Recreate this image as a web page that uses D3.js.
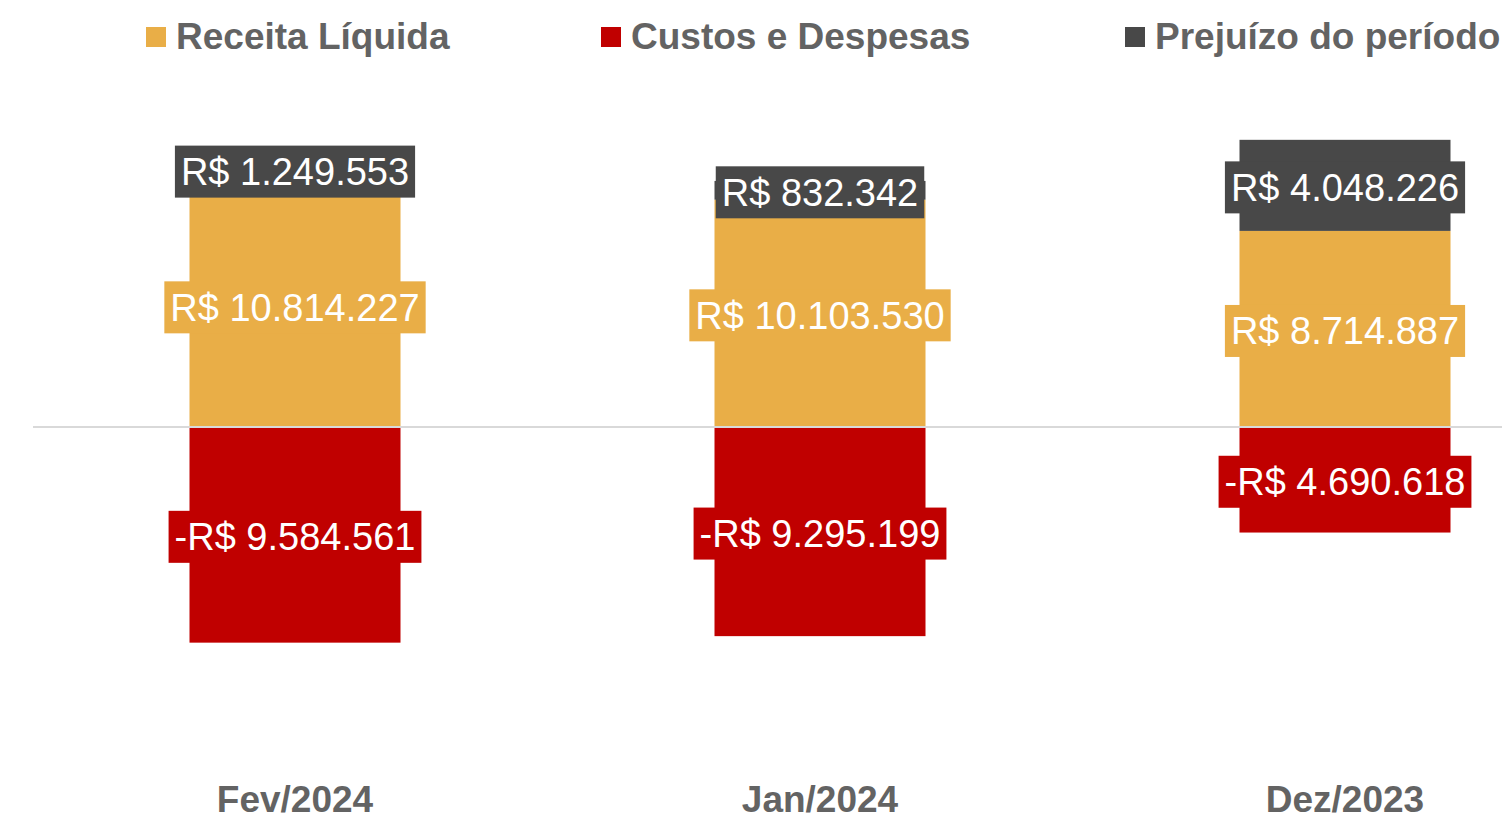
<!DOCTYPE html>
<html>
<head>
<meta charset="utf-8">
<script src="https://cdn.jsdelivr.net/npm/d3@7"></script>
<style>
  body { margin: 0; background: #fff; }
  svg { display: block; font-family: "Liberation Sans", Arial, sans-serif; }
</style>
</head>
<body>
<div id="chart"></div>
<script>
// dados do gráfico
var categorias = ["Fev/2024", "Jan/2024", "Dez/2023"];
var receita = [10814227, 10103530, 8714887];
var custos = [-9584561, -9295199, -4690618];
var prejuizo = [1249553, 832342, 4048226];

var series = [
  { nome: "Receita Líquida", cor: "#E9AE47" },
  { nome: "Custos e Despesas", cor: "#C00000" },
  { nome: "Prejuízo do período", cor: "#484848" }
];

var width = 1502;
var height = 822;

var svg = d3.select('#chart').append('svg')
  .attr('width', width)
  .attr('height', height);

var x = d3.scalePoint()
  .domain(categorias)
  .range([295, 1345]);
var larguraBarra = 211;

// zero em y=427
var y = d3.scaleLinear()
  .domain([-16000000, 16000000])
  .range([787, 67]);

var br = d3.formatLocale({ decimal: ",", thousands: ".", grouping: [3], currency: ["R$ ", ""], minus: "-" });
var fmt = br.format("$,.0f");

// segmentos empilhados
var segmentos = [];
categorias.forEach(function (c, i) {
  segmentos.push({ cat: c, y0: 0, y1: receita[i], v: receita[i], cor: series[0].cor });
  segmentos.push({ cat: c, y0: 0, y1: custos[i], v: custos[i], cor: series[1].cor });
  segmentos.push({ cat: c, y0: receita[i], y1: receita[i] + prejuizo[i], v: prejuizo[i], cor: series[2].cor });
});

svg.append('g')
  .selectAll('rect')
  .data(segmentos)
  .enter()
  .append('rect')
  .attr('x', d => x(d.cat) - larguraBarra / 2)
  .attr('width', larguraBarra)
  .attr('y', d => y(Math.max(d.y0, d.y1)))
  .attr('height', d => Math.abs(y(d.y0) - y(d.y1)))
  .attr('fill', d => d.cor);

// linha do zero
svg.append('line')
  .attr('x1', 33).attr('x2', width)
  .attr('y1', y(0)).attr('y2', y(0))
  .attr('stroke', '#d9d9d9')
  .attr('stroke-width', 2);

// rótulos
var rotulos = svg.append('g')
  .selectAll('g')
  .data(segmentos)
  .enter()
  .append('g')
  .attr('transform', d => 'translate(' + x(d.cat) + ',' + (y((d.y0 + d.y1) / 2) + 2) + ')');

rotulos.append('rect').attr('class', 'fundo').attr('fill', d => d.cor);
rotulos.append('text')
  .attr('text-anchor', 'middle')
  .attr('y', 13.5)
  .attr('fill', '#fff')
  .style('font-size', '38px')
  .text(d => fmt(d.v));

rotulos.each(function () {
  var g = d3.select(this);
  var w = g.select('text').node().getComputedTextLength();
  g.select('rect.fundo')
    .attr('x', -w / 2 - 6)
    .attr('width', w + 12)
    .attr('y', -26)
    .attr('height', 52);
});

// eixo x (categorias)
svg.append('g')
  .selectAll('text')
  .data(categorias)
  .enter()
  .append('text')
  .attr('x', d => x(d))
  .attr('y', 812)
  .attr('text-anchor', 'middle')
  .attr('fill', '#636363')
  .style('font-size', '37px')
  .style('font-weight', 'bold')
  .text(d => d);

// legenda
var legX = [146, 601, 1125];
var leg = svg.append('g')
  .selectAll('g')
  .data(series)
  .enter()
  .append('g')
  .attr('transform', (d, i) => 'translate(' + legX[i] + ',27)');

leg.append('rect')
  .attr('width', 20).attr('height', 20)
  .attr('fill', d => d.cor);

leg.append('text')
  .attr('x', 30)
  .attr('y', 22)
  .attr('fill', '#636363')
  .style('font-size', '37px')
  .style('font-weight', 'bold')
  .text(d => d.nome);
</script>
</body>
</html>
